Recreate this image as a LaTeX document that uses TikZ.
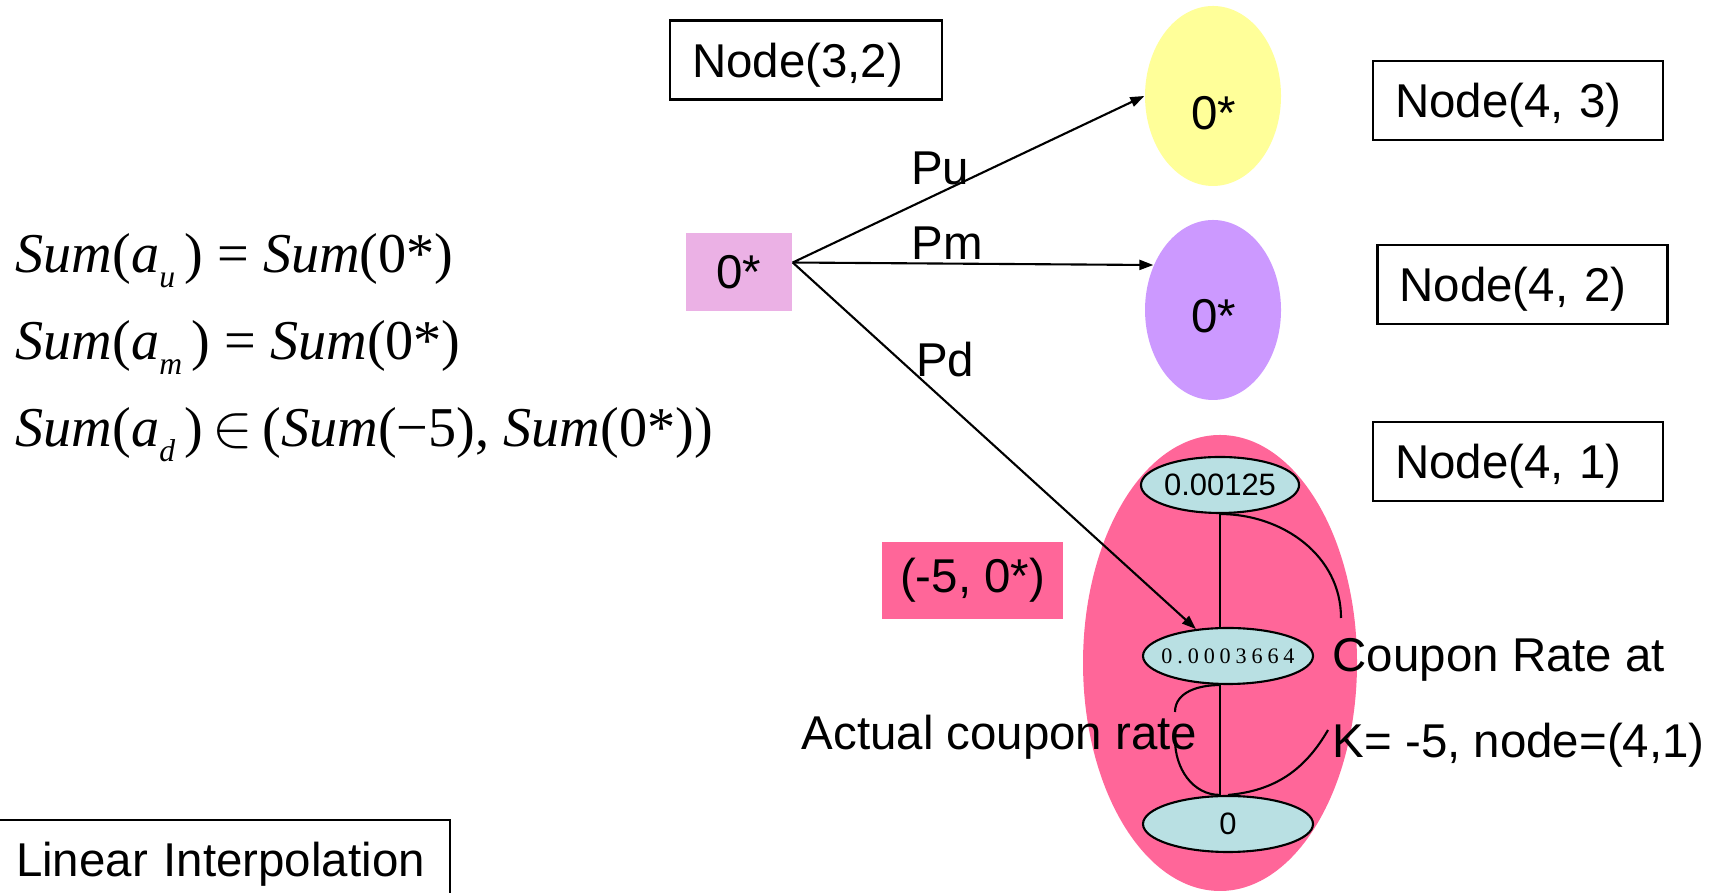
\documentclass[tikz,border=0pt]{standalone}
\usepackage{fontspec}
\setmainfont{Liberation Sans}
\newfontfamily\eqfont{Liberation Serif}
\usetikzlibrary{arrows.meta,shapes.geometric}
\definecolor{UpYellow}{HTML}{FFFF99}
\definecolor{MidViolet}{HTML}{CC99FF}
\definecolor{SrcPink}{HTML}{EBB1E5}
\definecolor{HotPink}{HTML}{FF6699}
\definecolor{RateCyan}{HTML}{B9E0E3}
\tikzset{
  labelbox/.style={draw, line width=0.6pt, text width=#1, align=left, minimum height=7.9mm, inner xsep=2.2mm, inner ysep=0.5mm, text depth=0pt},
  oval/.style={ellipse, inner sep=0pt, minimum width=13.6mm, minimum height=18mm},
  ratebox/.style={ellipse, draw, line width=0.6pt, fill=RateCyan, inner sep=0pt, minimum width=#1, minimum height=5.6mm},
  arrow/.style={-{Triangle[length=1.4mm,width=1mm]}, line width=0.6pt},
  link/.style={line width=0.6pt},
  plain/.style={inner sep=0pt}
}
\newcommand{\eqsum}{\textit{Sum}}
\newcommand{\asub}[1]{\textit{a}\raisebox{-0.55ex}{\fontsize{9}{10}\selectfont\textit{#1}}\,}

\begin{document}
\begin{tikzpicture}[font=\fontsize{13.5}{16}\selectfont]
    \useasboundingbox (0,0) rectangle (17.13,8.93);

    % sums on the left
    \node[plain, anchor=base west, font=\eqfont\fontsize{16}{19}\selectfont] (equp) at (0.15,6.20) {\eqsum(\asub{u}) = \eqsum(0*)};
    \node[plain, anchor=base west, font=\eqfont\fontsize{16}{19}\selectfont] (eqmid) at (0.15,5.33) {\eqsum(\asub{m}) = \eqsum(0*)};
    \node[plain, anchor=base west, font=\eqfont\fontsize{16}{19}\selectfont] (eqdown) at (0.15,4.46) {\eqsum(\asub{d})\,$\in$\,(\eqsum(−5), \eqsum(0*))};
    \node[labelbox=4.12cm] (interp) at (2.22,0.335) {Linear Interpolation};

    % tree nodes
    \node[labelbox=2.28cm] (n32) at (8.06,8.33) {Node(3,2)};
    \node[fill=SrcPink, minimum width=10.6mm, minimum height=7.8mm, inner sep=0pt] (src) at (7.39,6.21) {0*};
    \node[oval, fill=UpYellow] (hi) at (12.13,7.97) {};
    \node[plain] (hitxt) at (12.14,7.80) {0*};
    \node[oval, fill=MidViolet] (md) at (12.13,5.83) {};
    \node[plain] (mdtxt) at (12.14,5.77) {0*};
    \node[oval, fill=HotPink, minimum width=27.4mm, minimum height=45.6mm] (lo) at (12.20,2.30) {};
    \node[labelbox=2.46cm] (n43) at (15.18,7.925) {Node(4, 3)};
    \node[labelbox=2.46cm] (n42) at (15.225,6.085) {Node(4, 2)};
    \node[labelbox=2.46cm] (n41) at (15.18,4.315) {Node(4, 1)};
    \node[fill=HotPink, minimum width=18.1mm, minimum height=7.7mm, inner sep=0pt] (range) at (9.725,3.125) {(-5, 0*)};

    % rates inside node(4,1)
    \node[ratebox=15.4mm, font=\fontsize{8.8}{10}\selectfont] (rtop) at (12.20,4.08) {0.00125};
    \node[ratebox=17mm, font=\fontsize{8.8}{10}\selectfont] (rbot) at (12.28,0.69) {0};
    \draw[link] (rtop.south) -- (rtop.south |- rbot.north);
    \node[ratebox=17mm, font=\eqfont\fontsize{6.3}{8}\selectfont\addfontfeature{LetterSpace=22}] (rmid) at (12.28,2.37) {\makebox[0pt]{0.0003664}};

    % notes
    \node[plain, anchor=base west] (actual) at (8.01,1.43) {Actual coupon rate};
    \node[plain, anchor=base west] (coupon) at (13.32,2.21) {Coupon Rate at};
    \node[plain, anchor=base west] (strike) at (13.32,1.35) {K= -5, node=(4,1)};
    \coordinate (cptip) at (13.41,2.75);
    \coordinate (kstip) at (13.28,1.63);
    \coordinate (actA) at (11.75,1.81);
    \coordinate (actB) at (11.75,1.53);

    \draw[link] (rtop.south) to[out=0,in=90] (cptip);
    \draw[link] (rbot.north) to[out=5,in=240] (kstip);
    \draw[link] (rtop.south |- rmid.south) to[out=180,in=90] (actA);
    \draw[link] (actB) to[out=-90,in=180] (rtop.south |- rbot.north);

    % branches
    \draw[arrow] (src.10) -- (hi.west);
    \draw[arrow] (src.10) -- (md.143);
    \draw[arrow] (src.10) -- (rmid.140);
    \node[plain] (pu) at (9.40,7.25) {Pu};
    \node[plain] (pm) at (9.47,6.50) {Pm};
    \node[plain] (pd) at (9.45,5.33) {Pd};
\end{tikzpicture}
\end{document}
